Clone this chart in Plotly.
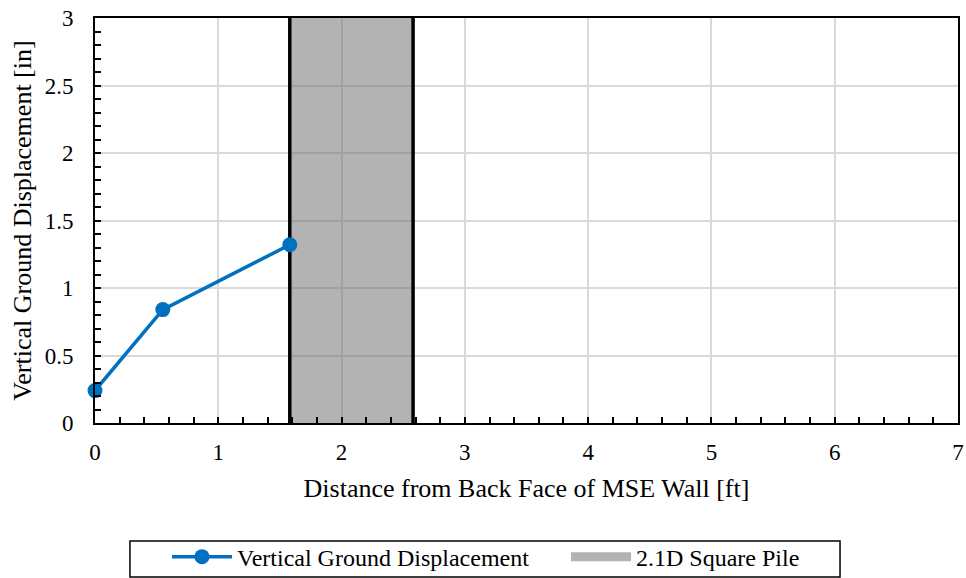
import plotly.graph_objects as go

# Measured settlement behind the wall
distance_ft = [0.0, 0.55, 1.58]
displacement_in = [0.24, 0.84, 1.32]

# Pile footprint along the section
pile_start_ft = [1.58]
pile_end_ft = [2.58]

x_ticks = [0, 1, 2, 3, 4, 5, 6, 7]
y_ticks = [0, 0.5, 1, 1.5, 2, 2.5, 3]
y_tick_labels = ["0", "0.5", "1", "1.5", "2", "2.5", "3"]

FONT = "Liberation Serif"
BLUE = "#0070c0"
y_lo, y_hi = y_ticks[0], y_ticks[-1]
TICK_FONT = dict(family=FONT, size=23, color="black")

fig = go.Figure()

# Pile band spanning the full height, with black outline edges
for x0, x1 in zip(pile_start_ft, pile_end_ft):
    fig.add_trace(go.Scatter(
        x=[x0, x0, x1, x1, x0], y=[y_lo, y_hi, y_hi, y_lo, y_lo],
        mode="lines", fill="toself", fillcolor="rgba(110,110,110,0.52)",
        line=dict(width=0), hoverinfo="skip", showlegend=False,
    ))
    for xv in (x0, x1):
        fig.add_trace(go.Scatter(
            x=[xv, xv], y=[y_lo, y_hi], mode="lines",
            line=dict(color="black", width=3.5), hoverinfo="skip", showlegend=False,
        ))

fig.add_trace(go.Scatter(
    x=distance_ft, y=displacement_in, mode="lines+markers",
    line=dict(color=BLUE, width=3.5),
    marker=dict(color=BLUE, size=15),
    name="Vertical Ground Displacement", cliponaxis=False,
    legend="legend",
))

# Legend entry for the pile band
fig.add_trace(go.Scatter(
    x=[None], y=[None], mode="lines",
    line=dict(color="#b3b3b3", width=9),
    name="2.1D Square Pile", legend="legend2",
))

fig.update_layout(
    xaxis=dict(
        range=[0, 7], tickmode="array", tickvals=x_ticks,
        tickfont=TICK_FONT, ticklabelstandoff=7,
        showline=True, linecolor="black", linewidth=2, mirror=True,
        showgrid=True, gridcolor="#d9d9d9", gridwidth=1.5, zeroline=False,
        ticks="inside", ticklen=6, tickcolor="black", tickwidth=2,
        minor=dict(dtick=0.2, ticks="inside", ticklen=6, tickcolor="black", tickwidth=2, showgrid=False),
        title=dict(text="Distance from Back Face of MSE Wall [ft]",
                   font=dict(family=FONT, size=26, color="black"), standoff=15),
    ),
    yaxis=dict(
        range=[y_lo, y_hi], tickmode="array", tickvals=y_ticks, ticktext=y_tick_labels,
        tickfont=TICK_FONT, ticklabelstandoff=15,
        showline=True, linecolor="black", linewidth=2, mirror=True,
        showgrid=True, gridcolor="#d9d9d9", gridwidth=1.5, zeroline=False,
        ticks="inside", ticklen=6, tickcolor="black", tickwidth=2,
        minor=dict(dtick=0.1, ticks="inside", ticklen=6, tickcolor="black", tickwidth=2, showgrid=False),
        title=dict(text="Vertical Ground Displacement [in]",
                   font=dict(family=FONT, size=26, color="black"), standoff=6),
    ),
)

# Legend frame
fig.add_shape(type="rect", xref="paper", yref="paper",
              x0=0.0405, x1=0.8633, y0=-0.2914, y1=-0.380,
              line=dict(color="black", width=1.5), fillcolor="white", layer="below")

legend_style = dict(
    orientation="h", xanchor="left", y=-0.331, yanchor="middle",
    borderwidth=0, bgcolor="rgba(0,0,0,0)",
    font=dict(family=FONT, size=24, color="black"),
    itemwidth=60,
)

fig.update_layout(
    width=966, height=578,
    margin=dict(l=95, r=8, t=18, b=155, autoexpand=False),
    paper_bgcolor="white", plot_bgcolor="white",
    font=dict(family=FONT, size=23, color="black"),
    showlegend=True,
    legend=dict(x=0.0834, **legend_style),
    legend2=dict(x=0.5458, **legend_style),
)

fig.write_html("out.html")
